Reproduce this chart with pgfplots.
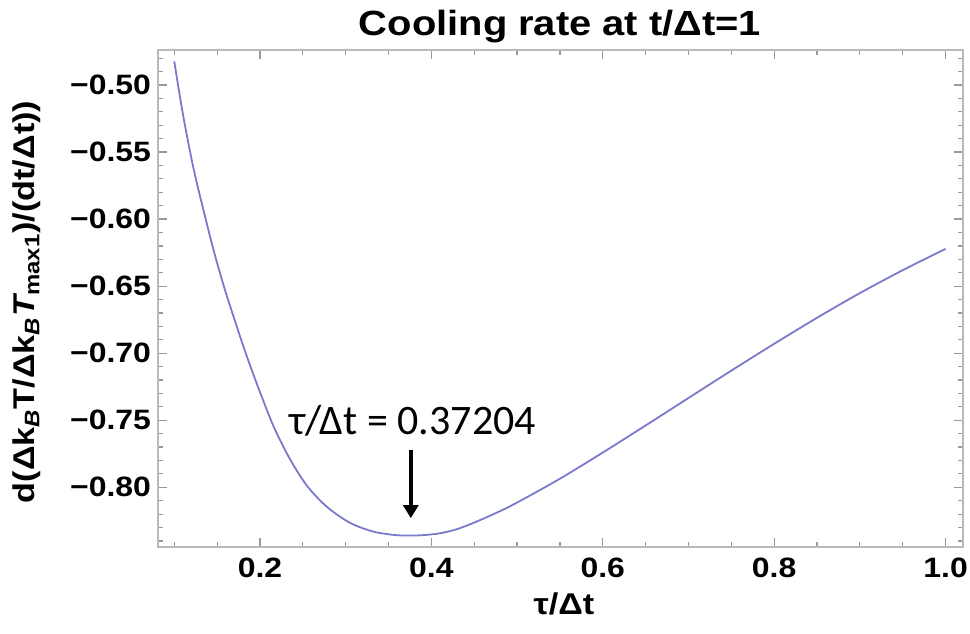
\documentclass[border=0pt]{standalone}
\usepackage{fontspec}
\setmainfont{Liberation Sans}[FakeStretch=1.14]
\newfontfamily\annfont{Carlito}
\usepackage{pgfplots}
\pgfplotsset{compat=1.18}
\usetikzlibrary{arrows.meta}
\definecolor{curve}{RGB}{122,122,204}
\definecolor{framec}{RGB}{185,185,185}

\pgfplotstableread{
x y
0.100 -0.4825
0.110 -0.5215
0.122 -0.5609
0.134 -0.5932
0.146 -0.6235
0.159 -0.6525
0.173 -0.6802
0.185 -0.7030
0.200 -0.7290
0.216 -0.7548
0.235 -0.7790
0.255 -0.7990
0.278 -0.8145
0.305 -0.8265
0.332 -0.8330
0.356 -0.8355
0.372 -0.8360
0.390 -0.8357
0.410 -0.8343
0.430 -0.8312
0.450 -0.8263
0.475 -0.8193
0.500 -0.8114
0.550 -0.7936
0.600 -0.7741
0.650 -0.7539
0.700 -0.7334
0.750 -0.7130
0.800 -0.6930
0.850 -0.6736
0.900 -0.6552
0.950 -0.6381
1.000 -0.6222
}\coolingdata

\begin{document}
\begin{tikzpicture}
\path[use as bounding box] (0,0) rectangle (485bp,317bp);
\begin{axis}[
  at={(79bp,43.65bp)}, anchor=south west, scale only axis,
  width=402.35bp, height=248.35bp,
  xmin=0.081, xmax=1.02, ymin=-0.8443, ymax=-0.4739,
  axis line style={draw=framec, line width=0.8bp},
  tick style={draw=gray!80, line width=0.6bp},
  major tick length=4.5bp, minor tick length=2.5bp,
  tick align=inside,
  xtick={0.2,0.4,0.6,0.8,1.0},
  xticklabels={0.2,0.4,0.6,0.8,1.0},
  minor xtick={0.1,0.15,0.25,0.3,0.35,0.45,0.5,0.55,0.65,0.7,0.75,0.85,0.9,0.95},
  ytick={-0.80,-0.75,-0.70,-0.65,-0.60,-0.55,-0.50},
  yticklabels={−0.80,−0.75,−0.70,−0.65,−0.60,−0.55,−0.50},
  minor ytick={-0.84,-0.83,-0.82,-0.81,-0.79,-0.78,-0.77,-0.76,-0.74,-0.73,-0.72,-0.71,-0.69,-0.68,-0.67,-0.66,-0.64,-0.63,-0.62,-0.61,-0.59,-0.58,-0.57,-0.56,-0.54,-0.53,-0.52,-0.51,-0.49,-0.48},
  ticklabel style={font=\fontsize{14bp}{16bp}\selectfont\bfseries, text=black},
  xticklabel style={yshift=-2bp},
]
\addplot[curve, line width=0.9bp, smooth] table[x=x, y=y] {\coolingdata};
\node[anchor=base, font=\annfont\fontsize{21bp}{24bp}\selectfont] at (axis cs:0.378,-0.761) {τ/Δt = 0.37204};
\draw[line width=2bp, -{Triangle[width=7.5bp,length=6.5bp]}] (axis cs:0.376,-0.772) -- (axis cs:0.376,-0.823);
\end{axis}
\node[anchor=base, font=\fontsize{17.5bp}{20bp}\selectfont\bfseries] at (280bp,299bp) {Cooling rate at t/Δt=1};
\node[anchor=base, font=\fontsize{15bp}{18bp}\selectfont\bfseries] at (282bp,10bp) {τ/Δt};
\node[rotate=90, anchor=center, font=\fontsize{15bp}{18bp}\selectfont\bfseries] at (13.5bp,166bp) {d(Δk\textsubscript{\itshape B}T/Δk\textsubscript{\itshape B}{\itshape T}\textsubscript{max1})/(dt/Δt))};
\end{tikzpicture}
\end{document}
